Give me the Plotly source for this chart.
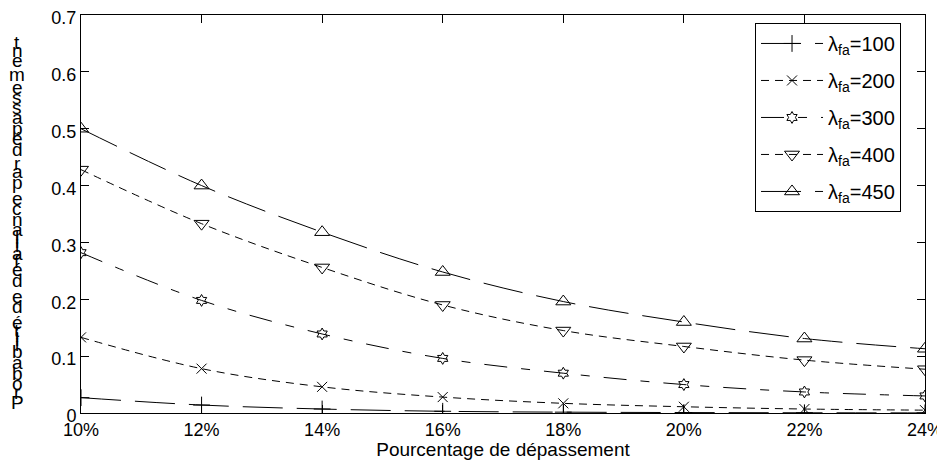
import plotly.graph_objects as go

# Percentage of overshoot (x) and the probability for each failure rate
pourcentage = [10, 12, 14, 16, 18, 20, 22, 24]
pourcentage_labels = ["10%", "12%", "14%", "16%", "18%", "20%", "22%", "24%"]
lambdas = [100, 200, 300, 400, 450]
proba_100 = [0.027, 0.014, 0.007, 0.003, 0.0015, 0.0008, 0.0004, 0.0002]
proba_200 = [0.133, 0.078, 0.046, 0.028, 0.017, 0.011, 0.007, 0.005]
proba_300 = [0.282, 0.198, 0.139, 0.096, 0.070, 0.050, 0.037, 0.030]
proba_400 = [0.428, 0.333, 0.256, 0.190, 0.145, 0.117, 0.093, 0.077]
proba_450 = [0.500, 0.400, 0.318, 0.248, 0.196, 0.160, 0.131, 0.113]

y_label = "Probabilité de défaillance par dépassement"

FONT = "Liberation Sans, Arial"
series = [proba_100, proba_200, proba_300, proba_400, proba_450]
symbols = ["cross-thin-open", "x-thin-open", "hexagram-open", "triangle-down-open", "triangle-up-open"]
dashes = ["40px,14px", "8px,6px", "23px,14px,9px,14px", "8px,6px", "40px,14px"]
sizes = [12, 10, 9, 13, 13]

fig = go.Figure()
for lam, vals, sym, dash, sz in zip(lambdas, series, symbols, dashes, sizes):
    fig.add_trace(go.Scatter(
        x=pourcentage, y=vals, mode="lines+markers",
        name=f"λ<sub>fa</sub>={lam}", legendgroup=str(lam),
        line=dict(color="black", width=1, dash=dash, shape="spline"),
        marker=dict(symbol=sym, size=sz, color="black", line=dict(color="black", width=1)),
    ))

# figure sits 8px inside the page (body margin), so work in figure pixels
W, H = 937, 452
L, R, T, B = 73, 20, 7, 47
plot_top, plot_bot = T, H - B

# y label: upright letters stacked vertically, spaced by their Arial advance widths
adv = {"P": 667, "r": 333, "o": 556, "b": 556, "a": 556, "i": 222, "l": 222, "t": 278,
       "é": 556, "d": 556, "e": 556, "f": 278, "n": 556, "c": 500, "p": 556, "s": 500,
       "m": 833, " ": 278}
y_first, y_last = 394, 34
cum = 0
centers = []
for ch in y_label:
    w = adv.get(ch, 556) / 1000
    centers.append(cum + w / 2)
    cum += w
scale = (y_first - y_last) / (centers[-1] - centers[0])
for ch, c in zip(y_label, centers):
    if ch == " ":
        continue
    ypx = y_first - (c - centers[0]) * scale
    fig.add_annotation(
        x=(9 - L) / (W - L - R), y=(plot_bot - ypx) / (plot_bot - plot_top),
        xref="paper", yref="paper", text=ch, showarrow=False,
        xanchor="center", yanchor="middle",
        font=dict(family=FONT, size=19, color="black"),
    )

axis_common = dict(
    showline=True, linecolor="black", linewidth=1, mirror="ticks",
    ticks="inside", ticklen=8, tickcolor="black", showgrid=False, zeroline=False,
    ticklabeloverflow="allow", automargin=False,
    tickfont=dict(family=FONT, size=18, color="black"),
)

fig.update_layout(
    width=W, height=H,
    margin=dict(l=L, r=R, t=T, b=B, autoexpand=False),
    plot_bgcolor="white", paper_bgcolor="white",
    font=dict(family=FONT, size=18, color="black"),
    xaxis=dict(range=[10, 24], tickvals=pourcentage, ticktext=pourcentage_labels,
               title=dict(text="Pourcentage de dépassement", standoff=18,
                          font=dict(family=FONT, size=19, color="black")),
               **axis_common),
    yaxis=dict(range=[0, 0.7], dtick=0.1, ticklabelshift=3, **axis_common),
    legend=dict(x=0.7986, y=0.98, xanchor="left", yanchor="top",
                bordercolor="black", borderwidth=1, bgcolor="white",
                traceorder="grouped", tracegroupgap=8, itemwidth=62,
                font=dict(family=FONT, size=20, color="black")),
)

fig.write_html("out.html")
